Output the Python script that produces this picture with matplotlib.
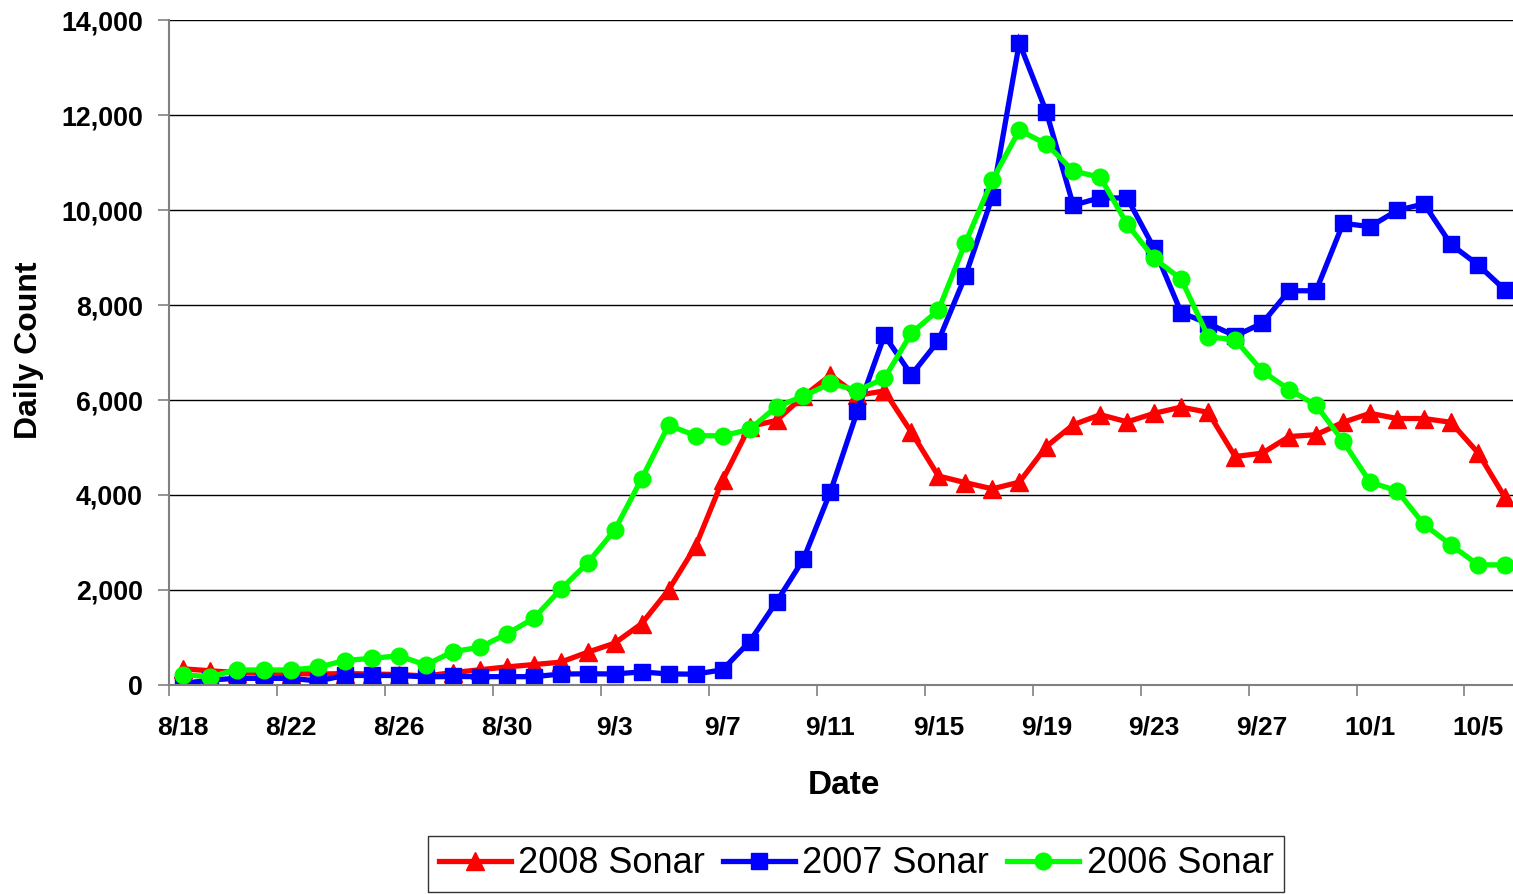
import numpy as np
import pandas as pd
import matplotlib
matplotlib.use("Agg")
import matplotlib.pyplot as plt

# daily categories 8/18 .. 10/6
dates = pd.date_range("2008-08-18", "2008-10-06", freq="D")
tick_labels = ["8/18", "8/22", "8/26", "8/30", "9/3", "9/7", "9/11",
               "9/15", "9/19", "9/23", "9/27", "10/1", "10/5"]

sonar_2008 = [340, 300, 260, 250, 240, 230, 240, 230, 220, 190,
              260, 320, 380, 430, 480, 690, 880, 1290, 2000, 2920,
              4310, 5440, 5570, 6080, 6520, 6100, 6190, 5320, 4400, 4260,
              4130, 4270, 5020, 5480, 5690, 5540, 5720, 5850, 5740, 4810,
              4880, 5230, 5270, 5530, 5720, 5610, 5610, 5530, 4890, 3950]

sonar_2007 = [30, 105, 140, 140, 140, 85, 200, 200, 200, 170,
              180, 175, 175, 175, 230, 235, 232, 275, 232, 228,
              320, 910, 1750, 2650, 4070, 5770, 7360, 6530, 7245, 8610,
              10280, 13520, 12070, 10100, 10260, 10250, 9190, 7840, 7610, 7350,
              7615, 8300, 8300, 9720, 9650, 9990, 10130, 9275, 8846, 8318]

sonar_2006 = [215, 175, 316, 316, 316, 370, 515, 561, 615, 421,
              702, 793, 1074, 1403, 2014, 2570, 3260, 4340, 5470, 5250,
              5245, 5380, 5860, 6080, 6350, 6200, 6456, 7410, 7890, 9310,
              10630, 11680, 11390, 10820, 10690, 9700, 8980, 8545, 7330, 7270,
              6610, 6220, 5890, 5130, 4270, 4090, 3380, 2950, 2530, 2530]

plt.rcParams['font.family'] = ['Liberation Sans', 'DejaVu Sans']

fig = plt.figure(figsize=(15.13, 8.94), dpi=100)
ax = fig.add_axes([0.112, 0.2338, 0.8916, 0.7438])

x = np.arange(len(dates))
ax.plot(x, sonar_2008, color="#FF0000", lw=3.8, marker="^", ms=13.5,
        label="2008 Sonar", solid_joinstyle="miter")
ax.plot(x, sonar_2007, color="#0000FF", lw=3.8, marker="s", ms=12,
        label="2007 Sonar", solid_joinstyle="miter")
ax.plot(x, sonar_2006, color="#00FF00", lw=3.8, marker="o", ms=12,
        label="2006 Sonar")

ax.set_xlim(-0.5, len(dates) - 0.5)
ax.set_ylim(0, 14000)

# ticks between categories, labels centred on every 4th day
ax.set_xticks(np.arange(-0.5, len(dates), 4))
ax.set_xticklabels([])
ax.set_xticks(np.arange(0, len(dates), 4), minor=True)
ax.set_xticklabels(tick_labels, minor=True, fontsize=19, fontweight="bold")
ax.tick_params(axis="x", which="major", direction="out", length=8, width=1.2, color="#808080")
ax.tick_params(axis="x", which="minor", length=0, pad=22)

ax.set_yticks(np.arange(0, 14001, 2000))
ax.set_yticklabels([f"{v:,}" for v in range(0, 14001, 2000)], fontsize=19.3, fontweight="bold")
ax.tick_params(axis="y", direction="out", length=8, width=1.2, color="#808080", pad=11)

ax.grid(axis="y", color="#000000", lw=1.0)
ax.set_axisbelow(True)
for s in ["top", "right"]:
    ax.spines[s].set_visible(False)
for s in ["left", "bottom"]:
    ax.spines[s].set_color("#808080")
    ax.spines[s].set_linewidth(1.5)

ax.set_xlabel("Date", fontsize=24, fontweight="bold")
ax.xaxis.set_label_coords(0.5, -0.128)
ax.set_ylabel("Daily Count", fontsize=23, fontweight="bold")
ax.yaxis.set_label_coords(-0.093, 0.504)

leg = fig.legend(loc="center", bbox_to_anchor=(0.5658, 0.0336), ncol=3,
                 fontsize=26, frameon=True, fancybox=False, handlelength=2.0,
                 columnspacing=0.5, handletextpad=0.2, borderpad=0.3)
leg.get_frame().set_edgecolor("#000000")
leg.get_frame().set_linewidth(1.0)

fig.savefig("out.png", dpi=100)
